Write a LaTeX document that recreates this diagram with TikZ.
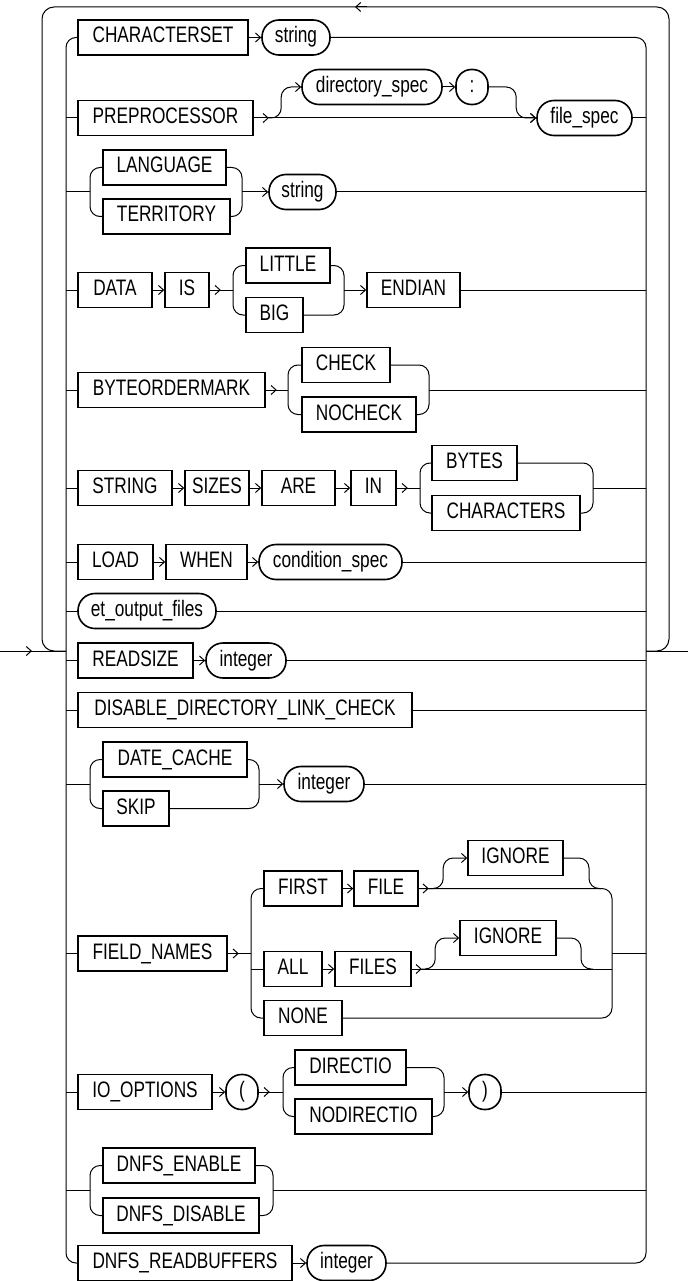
\documentclass[tikz,border=0pt]{standalone}
\usepackage{fontspec}
\newfontfamily\rrfont[FakeStretch=0.77]{Liberation Sans}
\usetikzlibrary{arrows.meta,calc}
\begin{document}
\begin{tikzpicture}[x=1pt,y=-1pt,
  kw/.style={draw, line width=1.6pt, minimum height=35pt, inner sep=0pt,
    font=\rrfont\fontsize{22.4pt}{26pt}\selectfont, text height=15.5pt, text depth=4.5pt},
  pill/.style={kw, rounded corners=17pt},
  circ/.style={kw, rounded corners=15.5pt},
  conn/.style={draw=black, line width=1pt},
  arr/.style={conn, -{Straight Barb[length=5pt,width=9pt,line width=1pt]}},
  rc/.style={rounded corners=10pt}]
\useasboundingbox (0,0) rectangle (688,1281);

% ---------- nodes ----------
\node[kw,minimum width=170pt] (cs) at (163,37.5) {CHARACTERSET};
\node[pill,minimum width=68pt] (str1) at (296,37.5) {string};

\node[kw,minimum width=175pt] (pre) at (165.5,118) {PREPROCESSOR};
\node[pill,minimum width=140pt] (dir) at (372,87) {directory\_spec};
\node[circ,minimum width=32pt] (colon) at (472,87) {:};
\node[pill,minimum width=95pt] (fspec) at (584.5,118) {file\_spec};

\node[kw,minimum width=123pt] (lang) at (164.5,167.5) {LANGUAGE};
\node[kw,minimum width=127pt] (terr) at (166.5,216.5) {TERRITORY};
\node[pill,minimum width=67pt] (str2) at (302.5,192) {string};

\node[kw,minimum width=74pt] (data) at (115,290) {DATA};
\node[kw,minimum width=44pt] (is) at (187,290) {IS};
\node[kw,minimum width=84pt] (little) at (288,265.5) {LITTLE};
\node[kw,minimum width=57pt] (big) at (274.5,315) {BIG};
\node[kw,minimum width=93pt] (endian) at (413.5,290) {ENDIAN};

\node[kw,minimum width=187pt] (bom) at (171.5,390) {BYTEORDERMARK};
\node[kw,minimum width=88pt] (check) at (346,365) {CHECK};
\node[kw,minimum width=114pt] (nocheck) at (359,414.5) {NOCHECK};

\node[kw,minimum width=94pt] (kstring) at (125,488) {STRING};
\node[kw,minimum width=64pt] (sizes) at (217,488) {SIZES};
\node[kw,minimum width=73pt] (are) at (298.5,488) {ARE};
\node[kw,minimum width=45pt] (kin) at (373.5,488) {IN};
\node[kw,minimum width=85pt] (bytes) at (474.5,463) {BYTES};
\node[kw,minimum width=148pt] (chars) at (506,513) {CHARACTERS};

\node[kw,minimum width=75pt] (load) at (115.5,562) {LOAD};
\node[kw,minimum width=81pt] (when) at (206.5,562) {WHEN};
\node[pill,minimum width=143pt] (cond) at (330.5,562) {condition\_spec};

\node[pill,minimum width=138pt] (eto) at (147,611) {et\_output\_files};

\node[kw,minimum width=115pt] (rs) at (135.5,660.5) {READSIZE};
\node[pill,minimum width=80pt] (int1) at (246,660.5) {integer};

\node[kw,minimum width=334pt] (ddlc) at (245,710) {DISABLE\_DIRECTORY\_LINK\_CHECK};

\node[kw,minimum width=144pt] (dc) at (175,759.5) {DATE\_CACHE};
\node[kw,minimum width=66pt] (skip) at (136,808.5) {SKIP};
\node[pill,minimum width=80pt] (int2) at (324,784) {integer};

\node[kw,minimum width=149pt] (fn) at (152.5,953.5) {FIELD\_NAMES};
\node[kw,minimum width=78pt] (first) at (303,888.5) {FIRST};
\node[kw,minimum width=64pt] (file) at (386,888.5) {FILE};
\node[kw,minimum width=95pt] (ign1) at (515.5,858) {IGNORE};
\node[kw,minimum width=58pt] (all) at (293,969) {ALL};
\node[kw,minimum width=76pt] (files) at (373,969) {FILES};
\node[kw,minimum width=96pt] (ign2) at (508,938) {IGNORE};
\node[kw,minimum width=78pt] (knone) at (303,1018) {NONE};

\node[kw,minimum width=134pt] (io) at (145,1092) {IO\_OPTIONS};
\node[circ,minimum width=32pt] (lp) at (242,1092) {(};
\node[kw,minimum width=111pt] (dio) at (350.5,1067.5) {DIRECTIO};
\node[kw,minimum width=137pt] (ndio) at (363.5,1116.5) {NODIRECTIO};
\node[circ,minimum width=32pt] (rp) at (485,1092) {)};

\node[kw,minimum width=152pt] (de) at (179,1165.5) {DNFS\_ENABLE};
\node[kw,minimum width=156pt] (dd) at (181,1215.5) {DNFS\_DISABLE};

\node[kw,minimum width=214pt] (drb) at (185,1263) {DNFS\_READBUFFERS};
\node[pill,minimum width=79pt] (int3) at (346.5,1263) {integer};

% ---------- coordinates ----------
\coordinate (lv) at (66,651);
\coordinate (rv) at (646,651);
\coordinate (entry) at (0,651);
\coordinate (exit) at (688,651);
\coordinate (otl) at (42,7);
\coordinate (otr) at (669,7);
\coordinate (tarr) at (355,7);
\coordinate (s3) at (90,192);   \coordinate (j3) at (242,192);
\coordinate (s4) at (233,290);  \coordinate (j4) at (344,290);
\coordinate (s5) at (288,390);  \coordinate (j5) at (429,390);
\coordinate (s6) at (420,488);  \coordinate (j6) at (593,488);
\coordinate (s11) at (90,784);  \coordinate (j11) at (259,784);
\coordinate (s12) at (251,953.5); \coordinate (j12) at (612,953.5);
\coordinate (k1) at (589,888.5); \coordinate (k2) at (581,969);
\coordinate (s13) at (283,1092); \coordinate (j13) at (444,1092);
\coordinate (s14) at (90,1190);  \coordinate (j14) at (273,1190);

% ---------- main frame ----------
\draw[conn,rc] (cs.west) -| (lv) |- (drb.west);
\draw[conn,rc] (str1.east) -| (rv) |- (int3.east);
\draw[conn] (entry) -- (lv);
\draw[arr] (entry) -- ([xshift=32pt]entry);
\draw[conn] (rv) -- (exit);
\draw[conn,rounded corners=12pt] (rv) -| (otr) -- (otl) |- (lv);
\draw[arr] ([xshift=12pt]tarr) -- (tarr);

% row 1
\draw[arr] (cs.east) -- (str1.west);
% row 2
\draw[conn] (pre.west) -- (pre.west -| lv);
\draw[arr] (pre.east) -- (fspec.west);
\draw[arr] (pre.east) -- ([xshift=15pt]pre.east);
\draw[arr,rc] ([xshift=15pt]pre.east) -| ([xshift=-20pt]dir.west) -- (dir.west);
\draw[arr] (dir.east) -- (colon.west);
\draw[arr,rc] (colon.east) -| ([xshift=-20pt]fspec.west) -- (fspec.west);
\draw[conn] (fspec.east) -- (fspec.east -| rv);
% row 3
\draw[conn] (s3) -- (s3 -| lv);
\draw[conn,rc] (lang.west) -| (s3) |- (terr.west);
\draw[conn,rc] (lang.east) -| (j3) |- (terr.east);
\draw[arr] (j3) -- (str2.west);
\draw[conn] (str2.east) -- (str2.east -| rv);
% row 4
\draw[conn] (data.west) -- (data.west -| lv);
\draw[arr] (data.east) -- (is.west);
\draw[conn] (is.east) -- (s4);
\draw[arr] (is.east) -- ([xshift=11pt]is.east);
\draw[conn,rc] (little.west) -| (s4) |- (big.west);
\draw[conn,rc] (little.east) -| (j4) |- (big.east);
\draw[arr] (j4) -- (endian.west);
\draw[conn] (endian.east) -- (endian.east -| rv);
% row 5
\draw[conn] (bom.west) -- (bom.west -| lv);
\draw[conn] (bom.east) -- (s5);
\draw[arr] (bom.east) -- ([xshift=11pt]bom.east);
\draw[conn,rc] (check.west) -| (s5) |- (nocheck.west);
\draw[conn,rc] (check.east) -| (j5) |- (nocheck.east);
\draw[conn] (j5) -- (j5 -| rv);
% row 6
\draw[conn] (kstring.west) -- (kstring.west -| lv);
\draw[arr] (kstring.east) -- (sizes.west);
\draw[arr] (sizes.east) -- (are.west);
\draw[arr] (are.east) -- (kin.west);
\draw[conn] (kin.east) -- (s6);
\draw[arr] (kin.east) -- ([xshift=11pt]kin.east);
\draw[conn,rc] (bytes.west) -| (s6) |- (chars.west);
\draw[conn,rc] (bytes.east) -| (j6) |- (chars.east);
\draw[conn] (j6) -- (j6 -| rv);
% row 7
\draw[conn] (load.west) -- (load.west -| lv);
\draw[arr] (load.east) -- (when.west);
\draw[arr] (when.east) -- (cond.west);
\draw[conn] (cond.east) -- (cond.east -| rv);
% row 8
\draw[conn] (eto.west) -- (eto.west -| lv);
\draw[conn] (eto.east) -- (eto.east -| rv);
% row 9
\draw[conn] (rs.west) -- (rs.west -| lv);
\draw[arr] (rs.east) -- (int1.west);
\draw[conn] (int1.east) -- (int1.east -| rv);
% row 10
\draw[conn] (ddlc.west) -- (ddlc.west -| lv);
\draw[conn] (ddlc.east) -- (ddlc.east -| rv);
% row 11
\draw[conn] (s11) -- (s11 -| lv);
\draw[conn,rc] (dc.west) -| (s11) |- (skip.west);
\draw[conn,rc] (dc.east) -| (j11) |- (skip.east);
\draw[arr] (j11) -- (int2.west);
\draw[conn] (int2.east) -- (int2.east -| rv);
% row 12
\draw[conn] (fn.west) -- (fn.west -| lv);
\draw[conn] (fn.east) -- (s12);
\draw[arr] (fn.east) -- ([xshift=11pt]fn.east);
\draw[conn,rc] (first.west) -| (s12) |- (knone.west);
\draw[conn] (all.west) -- (all.west -| s12);
\draw[arr] (first.east) -- (file.west);
\draw[conn,rc] (file.east) -| (j12) |- (knone.east);
\draw[conn] (j12) -- (j12 -| rv);
\draw[arr] (file.east) -- ([xshift=10pt]file.east);
\draw[arr,rc] ([xshift=10pt]file.east) -| ([xshift=-24pt]ign1.west) -- (ign1.west);
\draw[conn,rc] (ign1.east) -| (k1) -- ([xshift=12pt]k1);
\draw[arr] (all.east) -- (files.west);
\draw[conn] (files.east) -- (files.east -| j12);
\draw[arr] (files.east) -- ([xshift=10pt]files.east);
\draw[arr,rc] ([xshift=10pt]files.east) -| ([xshift=-24pt]ign2.west) -- (ign2.west);
\draw[conn,rc] (ign2.east) -| (k2) -- ([xshift=12pt]k2);
% row 13
\draw[conn] (io.west) -- (io.west -| lv);
\draw[arr] (io.east) -- (lp.west);
\draw[conn] (lp.east) -- (s13);
\draw[arr] (lp.east) -- ([xshift=11pt]lp.east);
\draw[conn,rc] (dio.west) -| (s13) |- (ndio.west);
\draw[conn,rc] (dio.east) -| (j13) |- (ndio.east);
\draw[arr] (j13) -- (rp.west);
\draw[conn] (rp.east) -- (rp.east -| rv);
% row 14
\draw[conn] (s14) -- (s14 -| lv);
\draw[conn,rc] (de.west) -| (s14) |- (dd.west);
\draw[conn,rc] (de.east) -| (j14) |- (dd.east);
\draw[conn] (j14) -- (j14 -| rv);
% row 15
\draw[arr] (drb.east) -- (int3.west);
\end{tikzpicture}
\end{document}
